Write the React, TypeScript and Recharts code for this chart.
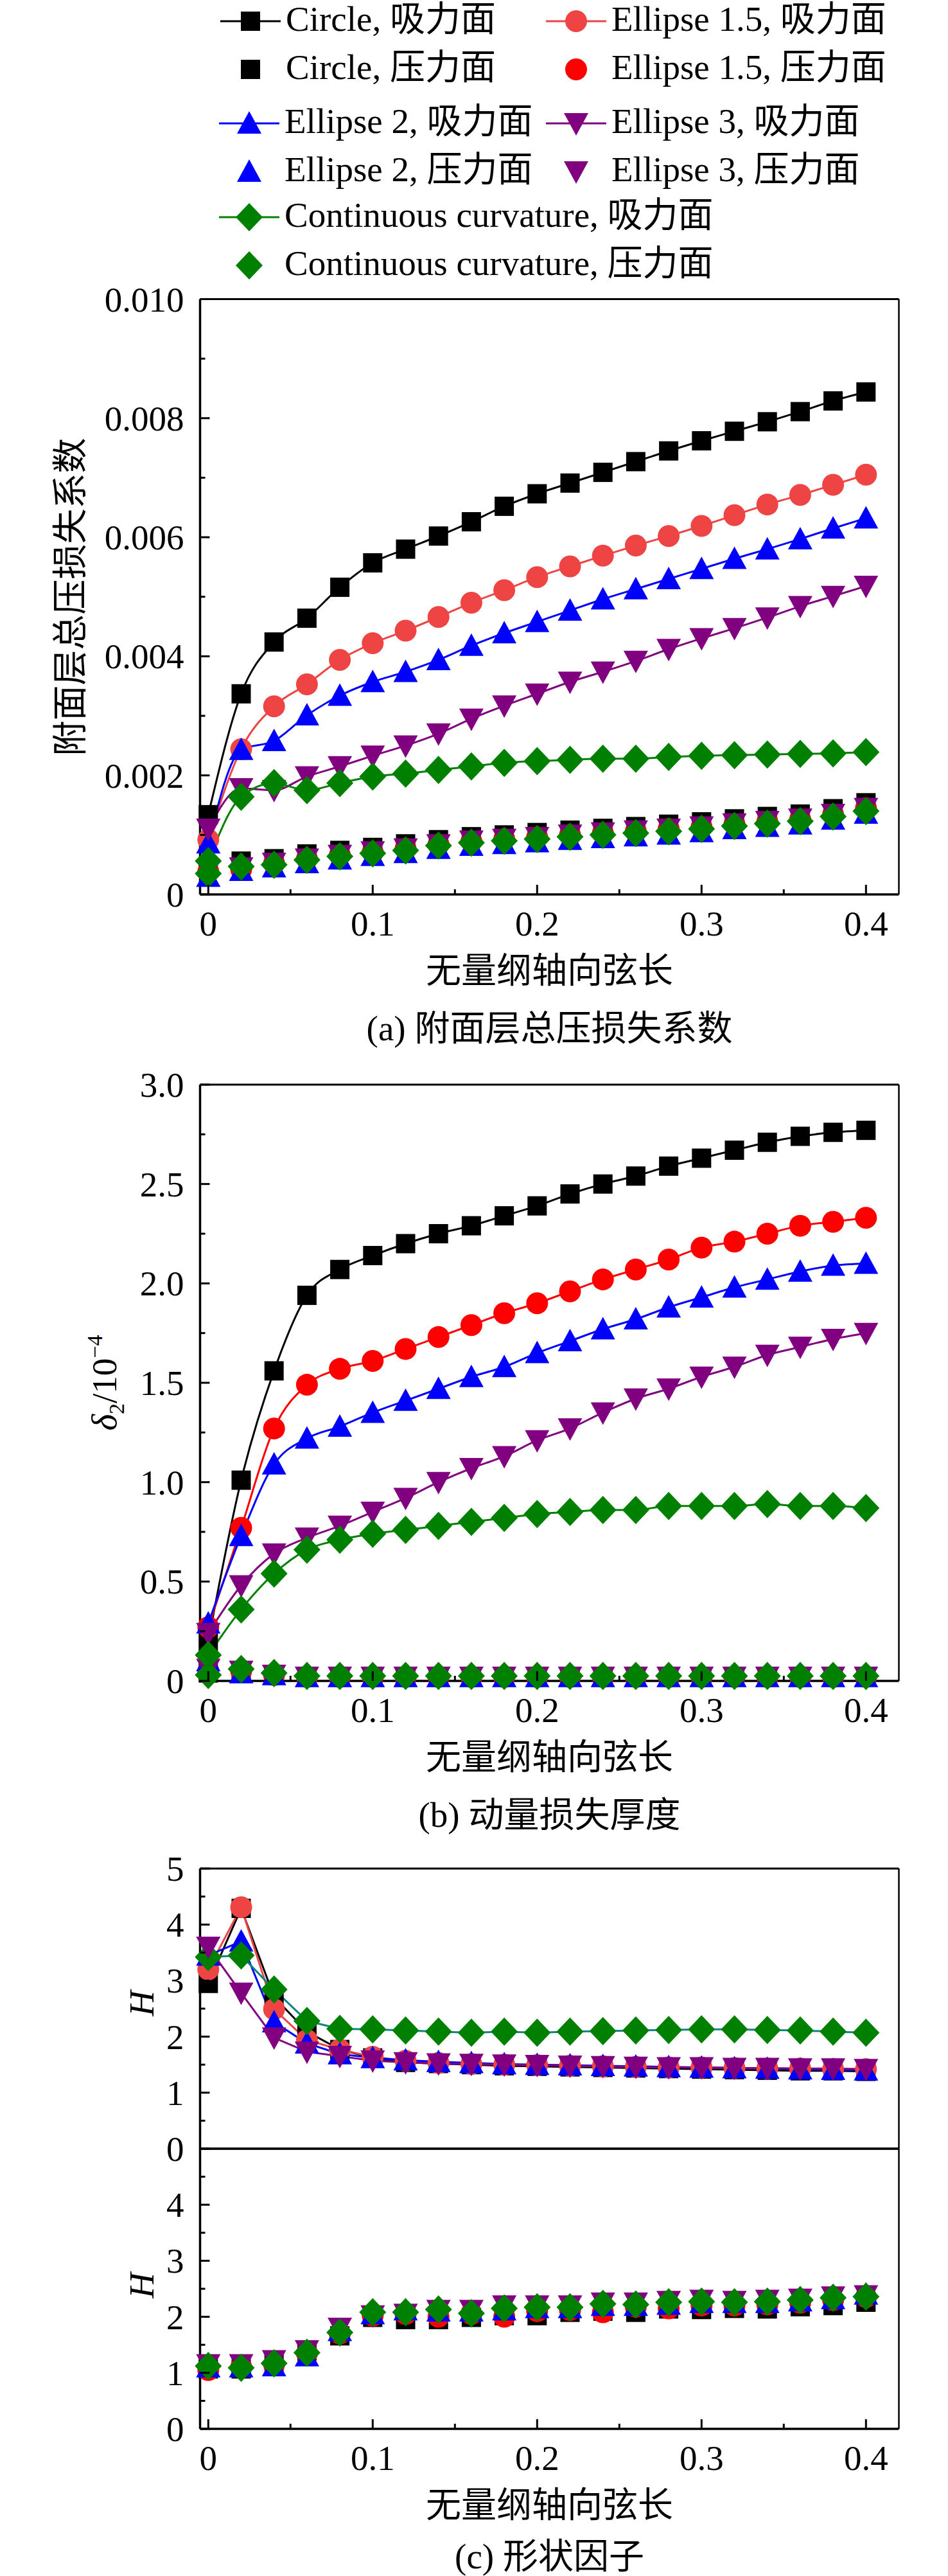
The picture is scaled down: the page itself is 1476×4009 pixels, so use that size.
import React from "react";
import { LineChart, Line, XAxis, YAxis, ReferenceLine } from "recharts";

const FONT = "'Liberation Serif', 'Times New Roman', 'Noto Sans CJK SC', serif";

// x positions (dimensionless axial chord)
const xs = [0, 0.02, 0.04, 0.06, 0.08, 0.1, 0.12, 0.14, 0.16, 0.18, 0.2, 0.22, 0.24, 0.26, 0.28, 0.3, 0.32, 0.34, 0.36, 0.38, 0.4];
const xTicks = [0, 0.05, 0.1, 0.15, 0.2, 0.25, 0.3, 0.35, 0.4];
const xLabels = ["0", "", "0.1", "", "0.2", "", "0.3", "", "0.4"];

// (a) total pressure loss coefficient
const aTicks = [0, 0.001, 0.002, 0.003, 0.004, 0.005, 0.006, 0.007, 0.008, 0.009, 0.01];
const aLabels = ["0", "", "0.002", "", "0.004", "", "0.006", "", "0.008", "", "0.010"];
const aCircleS = [0.00134, 0.00337, 0.00424, 0.00464, 0.00516, 0.00557, 0.0058, 0.00602, 0.00626, 0.00652, 0.00673, 0.00691, 0.00709, 0.00727, 0.00745, 0.00762, 0.00778, 0.00794, 0.00811, 0.00829, 0.00844];
const aCircleP = [0.00047, 0.00056, 0.0006, 0.00068, 0.00074, 0.00079, 0.00085, 0.00092, 0.00097, 0.001, 0.00104, 0.00108, 0.00111, 0.00114, 0.00118, 0.00122, 0.00127, 0.00131, 0.00135, 0.00144, 0.00154];
const aE15S = [0.00092, 0.00244, 0.00316, 0.00353, 0.00394, 0.00422, 0.00443, 0.00466, 0.0049, 0.00511, 0.00533, 0.00551, 0.00569, 0.00586, 0.00602, 0.00619, 0.00637, 0.00655, 0.00671, 0.00688, 0.00705];
const aE15P = [0.00038, 0.00042, 0.00052, 0.0006, 0.00066, 0.00071, 0.00077, 0.00084, 0.00089, 0.00093, 0.00096, 0.001, 0.00103, 0.00106, 0.0011, 0.00113, 0.00118, 0.00122, 0.00126, 0.00134, 0.00145];
const aE2S = [0.00086, 0.00243, 0.00258, 0.00301, 0.00334, 0.00357, 0.00374, 0.00394, 0.00418, 0.00439, 0.00458, 0.00477, 0.00496, 0.00513, 0.0053, 0.00547, 0.00564, 0.0058, 0.00597, 0.00615, 0.00632];
const aE2P = [0.0003, 0.0004, 0.00046, 0.00053, 0.00059, 0.00065, 0.0007, 0.00077, 0.00082, 0.00085, 0.00088, 0.00092, 0.00095, 0.00098, 0.00101, 0.00105, 0.0011, 0.00114, 0.00118, 0.00126, 0.00136];
const aE3S = [0.0011, 0.00178, 0.00175, 0.00198, 0.00215, 0.00233, 0.0025, 0.0027, 0.00295, 0.00317, 0.00337, 0.00357, 0.00374, 0.00392, 0.00412, 0.0043, 0.00447, 0.00465, 0.00484, 0.00501, 0.00518];
const aE3P = [0.0004, 0.00045, 0.00053, 0.0006, 0.00066, 0.00072, 0.00077, 0.00084, 0.0009, 0.00093, 0.00096, 0.001, 0.00104, 0.00107, 0.0011, 0.00114, 0.00119, 0.00123, 0.00127, 0.00135, 0.00145];
const aCcS = [0.00056, 0.00164, 0.00187, 0.00175, 0.00187, 0.00198, 0.00203, 0.00209, 0.00215, 0.00221, 0.00224, 0.00226, 0.00228, 0.00228, 0.00231, 0.00233, 0.00234, 0.00235, 0.00236, 0.00237, 0.00239];
const aCcP = [0.00035, 0.00047, 0.0005, 0.00058, 0.00064, 0.00069, 0.00074, 0.00082, 0.00087, 0.0009, 0.00093, 0.00097, 0.001, 0.00103, 0.00106, 0.0011, 0.00115, 0.00119, 0.00123, 0.00131, 0.0014];

// (b) momentum thickness
const bTicks = [0, 0.25, 0.5, 0.75, 1, 1.25, 1.5, 1.75, 2, 2.25, 2.5, 2.75, 3];
const bLabels = ["0", "", "0.5", "", "1.0", "", "1.5", "", "2.0", "", "2.5", "", "3.0"];
const bCircleS = [0.2, 1.01, 1.56, 1.94, 2.07, 2.14, 2.2, 2.25, 2.29, 2.34, 2.39, 2.45, 2.5, 2.54, 2.59, 2.63, 2.67, 2.71, 2.74, 2.76, 2.77];
const bCircleP = [0.04, 0.05, 0.03, 0.02, 0.02, 0.02, 0.02, 0.02, 0.02, 0.02, 0.02, 0.02, 0.02, 0.02, 0.02, 0.02, 0.02, 0.02, 0.02, 0.02, 0.02];
const bE15S = [0.27, 0.77, 1.27, 1.49, 1.57, 1.61, 1.67, 1.73, 1.79, 1.85, 1.9, 1.96, 2.02, 2.07, 2.12, 2.18, 2.21, 2.25, 2.29, 2.31, 2.33];
const bE15P = [0.05, 0.05, 0.03, 0.02, 0.02, 0.02, 0.02, 0.02, 0.02, 0.02, 0.02, 0.02, 0.02, 0.02, 0.02, 0.02, 0.02, 0.02, 0.02, 0.02, 0.02];
const bE2S = [0.29, 0.73, 1.09, 1.22, 1.28, 1.35, 1.41, 1.47, 1.53, 1.58, 1.65, 1.71, 1.77, 1.82, 1.88, 1.93, 1.98, 2.02, 2.06, 2.09, 2.1];
const bE2P = [0.1, 0.04, 0.03, 0.02, 0.02, 0.02, 0.02, 0.02, 0.02, 0.02, 0.02, 0.02, 0.02, 0.02, 0.02, 0.02, 0.02, 0.02, 0.02, 0.02, 0.02];
const bE3S = [0.24, 0.48, 0.64, 0.72, 0.78, 0.85, 0.92, 1.0, 1.07, 1.13, 1.21, 1.27, 1.35, 1.42, 1.47, 1.53, 1.58, 1.64, 1.68, 1.72, 1.75];
const bE3P = [0.06, 0.05, 0.03, 0.02, 0.02, 0.02, 0.02, 0.02, 0.02, 0.02, 0.02, 0.02, 0.02, 0.02, 0.02, 0.02, 0.02, 0.02, 0.02, 0.02, 0.02];
const bCcS = [0.13, 0.36, 0.54, 0.66, 0.71, 0.74, 0.76, 0.78, 0.8, 0.82, 0.84, 0.85, 0.86, 0.86, 0.88, 0.88, 0.88, 0.89, 0.88, 0.88, 0.87];
const bCcP = [0.03, 0.06, 0.04, 0.025, 0.025, 0.025, 0.025, 0.025, 0.025, 0.025, 0.025, 0.025, 0.025, 0.025, 0.025, 0.025, 0.025, 0.025, 0.025, 0.025, 0.025];

// (c) shape factor
const cTicks = [0, 0.5, 1, 1.5, 2, 2.5, 3, 3.5, 4, 4.5, 5];
const cTopLabels = ["0", "", "1", "", "2", "", "3", "", "4", "", "5"];
const cBotLabels = ["0", "", "1", "", "2", "", "3", "", "4", "", ""];
const cCircleS = [2.95, 4.29, 2.71, 2.09, 1.77, 1.62, 1.54, 1.52, 1.5, 1.48, 1.47, 1.46, 1.45, 1.44, 1.43, 1.42, 1.41, 1.4, 1.39, 1.39, 1.38];
const cE15S = [3.2, 4.31, 2.49, 1.94, 1.77, 1.64, 1.57, 1.53, 1.51, 1.5, 1.49, 1.48, 1.47, 1.46, 1.45, 1.45, 1.44, 1.43, 1.43, 1.42, 1.42];
const cE2S = [3.45, 3.7, 2.26, 1.88, 1.69, 1.62, 1.58, 1.55, 1.53, 1.51, 1.5, 1.49, 1.48, 1.47, 1.46, 1.45, 1.44, 1.43, 1.42, 1.41, 1.4];
const cE3S = [3.6, 2.78, 1.98, 1.73, 1.65, 1.57, 1.54, 1.52, 1.51, 1.5, 1.49, 1.48, 1.47, 1.46, 1.45, 1.45, 1.44, 1.44, 1.43, 1.43, 1.42];
const cCcS = [3.42, 3.45, 2.84, 2.28, 2.14, 2.13, 2.11, 2.09, 2.07, 2.09, 2.07, 2.09, 2.1, 2.11, 2.12, 2.13, 2.13, 2.12, 2.11, 2.09, 2.07];
const cCircleP = [1.07, 1.07, 1.2, 1.39, 1.66, 1.99, 1.95, 1.95, 1.99, 2.02, 2.02, 2.08, 2.1, 2.08, 2.14, 2.13, 2.15, 2.14, 2.18, 2.2, 2.26];
const cE15P = [1.05, 1.1, 1.15, 1.35, 1.7, 2.02, 2.05, 2.0, 2.05, 2.0, 2.1, 2.12, 2.08, 2.18, 2.15, 2.2, 2.2, 2.22, 2.25, 2.3, 2.35];
const cE2P = [1.1, 1.1, 1.12, 1.3, 1.75, 2.05, 2.12, 2.1, 2.1, 2.12, 2.16, 2.16, 2.2, 2.2, 2.22, 2.25, 2.25, 2.25, 2.28, 2.32, 2.4];
const cE3P = [1.15, 1.15, 1.22, 1.4, 1.8, 2.02, 2.05, 2.12, 2.12, 2.2, 2.2, 2.2, 2.25, 2.25, 2.28, 2.3, 2.28, 2.3, 2.32, 2.36, 2.38];
const cCcP = [1.12, 1.09, 1.17, 1.36, 1.72, 2.08, 2.08, 2.13, 2.06, 2.15, 2.17, 2.17, 2.23, 2.22, 2.26, 2.27, 2.26, 2.27, 2.3, 2.34, 2.36];

type Shape = "square" | "circle" | "up" | "down" | "diamond";

function Marker({ cx, cy, shape, fill }: { cx?: number; cy?: number; shape: Shape; fill: string }) {
  if (cx == null || cy == null || isNaN(cx) || isNaN(cy)) return null;
  switch (shape) {
    case "square":
      return <rect x={cx - 15} y={cy - 15} width={30} height={30} fill={fill} />;
    case "circle":
      return <circle cx={cx} cy={cy} r={17} fill={fill} />;
    case "up":
      return <polygon points={`${cx},${cy - 19} ${cx + 19},${cy + 16} ${cx - 19},${cy + 16}`} fill={fill} />;
    case "down":
      return <polygon points={`${cx},${cy + 19} ${cx + 19},${cy - 16} ${cx - 19},${cy - 16}`} fill={fill} />;
    default:
      return <polygon points={`${cx},${cy - 22} ${cx + 21},${cy} ${cx},${cy + 22} ${cx - 21},${cy}`} fill={fill} />;
  }
}

type Series = { key: string; values: number[]; shape: Shape; fill: string; stroke: string };

function rows(series: Series[]) {
  return xs.map((x, i) => {
    const r: Record<string, number> = { x };
    series.forEach((s) => (r[s.key] = s.values[i]));
    return r;
  });
}

const PLOT_L = 311.5;
const PLOT_R = 1399.5;
const Y_AXIS_W = 60;
const X_AXIS_H = 30;

function makeXTick() {
  return (p: any) => {
    const { x, y, payload } = p;
    const i = xTicks.findIndex((t) => Math.abs(t - payload.value) < 1e-9);
    const label = xLabels[i] ?? "";
    const major = label !== "";
    return (
      <g>
        <line x1={x} x2={x} y1={y} y2={y - (major ? 15 : 8)} stroke="#000" strokeWidth={3} />
        {major && (
          <text x={x} y={y + 64} textAnchor="middle" fontSize={55} fontFamily={FONT} fill="#000">
            {label}
          </text>
        )}
      </g>
    );
  };
}

function makeYTick(ticks: number[], labels: string[]) {
  return (p: any) => {
    const { x, y, payload } = p;
    const i = ticks.findIndex((t) => Math.abs(t - payload.value) < 1e-9);
    const label = labels[i] ?? "";
    const major = i % 2 === 0;
    return (
      <g>
        <line x1={x} x2={x + (major ? 15 : 8)} y1={y} y2={y} stroke="#000" strokeWidth={3} />
        {label !== "" && (
          <text x={x - 25} y={y + 19} textAnchor="end" fontSize={55} fontFamily={FONT} fill="#000">
            {label}
          </text>
        )}
      </g>
    );
  };
}

type PanelProps = {
  chartTop: number;
  chartBottom: number;
  plotTop: number;
  plotBottom: number;
  yTicks: number[];
  yLabels: string[];
  series: Series[];
  showX: boolean;
  curve: "monotone" | "linear";
};

function Panel({ chartTop, chartBottom, plotTop, plotBottom, yTicks, yLabels, series, showX, curve }: PanelProps) {
  const data = rows(series);
  const yMax = yTicks[yTicks.length - 1];
  return (
    <div style={{ position: "absolute", left: 0, top: chartTop }}>
      <LineChart
        width={1476}
        height={chartBottom - chartTop}
        data={data}
        style={{ overflow: "visible" }}
        margin={{
          top: plotTop - chartTop,
          bottom: chartBottom - plotBottom - X_AXIS_H,
          left: PLOT_L - Y_AXIS_W,
          right: 1476 - PLOT_R,
        }}
      >
        <XAxis
          type="number"
          dataKey="x"
          domain={[-0.005, 0.42]}
          ticks={xTicks}
          interval={0}
          height={X_AXIS_H}
          tickSize={0}
          tickMargin={0}
          tickLine={false}
          tick={showX ? makeXTick() : false}
          axisLine={{ stroke: "#000", strokeWidth: 3.5 }}
        />
        <YAxis
          type="number"
          domain={[0, yMax]}
          ticks={yTicks}
          interval={0}
          width={Y_AXIS_W}
          tickSize={0}
          tickMargin={0}
          tickLine={false}
          tick={makeYTick(yTicks, yLabels)}
          axisLine={{ stroke: "#000", strokeWidth: 3.5 }}
        />
        <ReferenceLine y={yMax} stroke="#000" strokeWidth={3} />
        <ReferenceLine x={0.42} stroke="#000" strokeWidth={2.5} />
        {series.map((s) => (
          <Line
            key={s.key}
            dataKey={s.key}
            type={curve}
            stroke={s.stroke}
            strokeWidth={3}
            isAnimationActive={false}
            activeDot={false}
            dot={(p: any) => <Marker key={`${s.key}-${p.index}`} cx={p.cx} cy={p.cy} shape={s.shape} fill={s.fill} />}
          />
        ))}
      </LineChart>
    </div>
  );
}

const BLACK = "#000000";
const LRED = "#EE4444";
const RED = "#FF0000";
const BLUE = "#0000FF";
const PURPLE = "#800080";
const GREEN = "#008000";
const TEAL = "#0E8585";

const seriesA: Series[] = [
  { key: "cS", values: aCircleS, shape: "square", fill: BLACK, stroke: BLACK },
  { key: "cP", values: aCircleP, shape: "square", fill: BLACK, stroke: "none" },
  { key: "e15S", values: aE15S, shape: "circle", fill: LRED, stroke: LRED },
  { key: "e15P", values: aE15P, shape: "circle", fill: RED, stroke: "none" },
  { key: "e2S", values: aE2S, shape: "up", fill: BLUE, stroke: BLUE },
  { key: "e2P", values: aE2P, shape: "up", fill: BLUE, stroke: "none" },
  { key: "e3S", values: aE3S, shape: "down", fill: PURPLE, stroke: PURPLE },
  { key: "e3P", values: aE3P, shape: "down", fill: PURPLE, stroke: "none" },
  { key: "ccS", values: aCcS, shape: "diamond", fill: GREEN, stroke: GREEN },
  { key: "ccP", values: aCcP, shape: "diamond", fill: GREEN, stroke: "none" },
];

const seriesB: Series[] = [
  { key: "cS", values: bCircleS, shape: "square", fill: BLACK, stroke: BLACK },
  { key: "cP", values: bCircleP, shape: "square", fill: BLACK, stroke: "none" },
  { key: "e15S", values: bE15S, shape: "circle", fill: RED, stroke: RED },
  { key: "e15P", values: bE15P, shape: "circle", fill: RED, stroke: "none" },
  { key: "e2S", values: bE2S, shape: "up", fill: BLUE, stroke: BLUE },
  { key: "e2P", values: bE2P, shape: "up", fill: BLUE, stroke: "none" },
  { key: "e3S", values: bE3S, shape: "down", fill: PURPLE, stroke: PURPLE },
  { key: "e3P", values: bE3P, shape: "down", fill: PURPLE, stroke: "none" },
  { key: "ccS", values: bCcS, shape: "diamond", fill: GREEN, stroke: GREEN },
  { key: "ccP", values: bCcP, shape: "diamond", fill: GREEN, stroke: "none" },
];

const seriesCTop: Series[] = [
  { key: "cS", values: cCircleS, shape: "square", fill: BLACK, stroke: BLACK },
  { key: "e15S", values: cE15S, shape: "circle", fill: LRED, stroke: LRED },
  { key: "e2S", values: cE2S, shape: "up", fill: BLUE, stroke: BLUE },
  { key: "ccS", values: cCcS, shape: "diamond", fill: GREEN, stroke: TEAL },
  { key: "e3S", values: cE3S, shape: "down", fill: PURPLE, stroke: PURPLE },
];

const seriesCBot: Series[] = [
  { key: "cP", values: cCircleP, shape: "square", fill: BLACK, stroke: "none" },
  { key: "e15P", values: cE15P, shape: "circle", fill: RED, stroke: "none" },
  { key: "e2P", values: cE2P, shape: "up", fill: BLUE, stroke: "none" },
  { key: "e3P", values: cE3P, shape: "down", fill: PURPLE, stroke: "none" },
  { key: "ccP", values: cCcP, shape: "diamond", fill: GREEN, stroke: "none" },
];

type LegendItem = { x: number; row: number; shape: Shape; color: string; line: boolean; text: string };

const legendBaselines = [48, 123, 207, 282, 353, 428];
const legendItems: LegendItem[] = [
  { x: 390, row: 0, shape: "square", color: BLACK, line: true, text: "Circle, 吸力面" },
  { x: 897, row: 0, shape: "circle", color: LRED, line: true, text: "Ellipse 1.5, 吸力面" },
  { x: 390, row: 1, shape: "square", color: BLACK, line: false, text: "Circle, 压力面" },
  { x: 897, row: 1, shape: "circle", color: RED, line: false, text: "Ellipse 1.5, 压力面" },
  { x: 388, row: 2, shape: "up", color: BLUE, line: true, text: "Ellipse 2, 吸力面" },
  { x: 897, row: 2, shape: "down", color: PURPLE, line: true, text: "Ellipse 3, 吸力面" },
  { x: 388, row: 3, shape: "up", color: BLUE, line: false, text: "Ellipse 2, 压力面" },
  { x: 897, row: 3, shape: "down", color: PURPLE, line: false, text: "Ellipse 3, 压力面" },
  { x: 388, row: 4, shape: "diamond", color: GREEN, line: true, text: "Continuous curvature, 吸力面" },
  { x: 388, row: 5, shape: "diamond", color: GREEN, line: false, text: "Continuous curvature, 压力面" },
];

function LegendBlock() {
  return (
    <svg width={1476} height={445} style={{ position: "absolute", left: 0, top: 0 }}>
      {legendItems.map((it, i) => {
        const base = legendBaselines[it.row];
        const cy = base - 15;
        return (
          <g key={i}>
            {it.line && <line x1={it.x - 47} x2={it.x + 47} y1={cy} y2={cy} stroke={it.color} strokeWidth={3} />}
            <Marker cx={it.x} cy={cy} shape={it.shape} fill={it.color} />
            <text x={it.x + 55} y={base} fontSize={55} fontFamily={FONT} fill="#000">
              {it.text}
            </text>
          </g>
        );
      })}
    </svg>
  );
}

function CenterText({ x, y, children, rotate = false, style = {} }: any) {
  return (
    <div
      style={{
        position: "absolute",
        left: x,
        top: y,
        transform: `translate(-50%, -50%)${rotate ? " rotate(-90deg)" : ""}`,
        whiteSpace: "nowrap",
        fontSize: 55,
        lineHeight: "55px",
        fontFamily: FONT,
        color: "#000",
        ...style,
      }}
    >
      {children}
    </div>
  );
}

const xCenter = (PLOT_L + PLOT_R) / 2;

export default function App() {
  return (
    <div style={{ position: "absolute", left: 0, top: 0, width: 1476, height: 4009, background: "#fff", overflow: "hidden" }}>
      <LegendBlock />

      <Panel chartTop={410} chartBottom={1480} plotTop={465.5} plotBottom={1392} yTicks={aTicks} yLabels={aLabels} series={seriesA} showX curve="monotone" />
      <CenterText x={109} y={929} rotate>附面层总压损失系数</CenterText>
      <CenterText x={xCenter} y={1510}>无量纲轴向弦长</CenterText>
      <CenterText x={xCenter} y={1600}>(a) 附面层总压损失系数</CenterText>

      <Panel chartTop={1640} chartBottom={2704} plotTop={1688} plotBottom={2616} yTicks={bTicks} yLabels={bLabels} series={seriesB} showX curve="monotone" />
      <CenterText x={166} y={2152} rotate>
        <i>δ</i>
        <span style={{ fontSize: 34, position: "relative", top: 12 }}>2</span>/10
        <span style={{ fontSize: 34, position: "relative", top: -22 }}>−4</span>
      </CenterText>
      <CenterText x={xCenter} y={2734}>无量纲轴向弦长</CenterText>
      <CenterText x={xCenter} y={2824}>(b) 动量损失厚度</CenterText>

      <Panel chartTop={2860} chartBottom={3374} plotTop={2908} plotBottom={3344} yTicks={cTicks} yLabels={cTopLabels} series={seriesCTop} showX={false} curve="linear" />
      <Panel chartTop={3330} chartBottom={3868} plotTop={3344} plotBottom={3780} yTicks={cTicks} yLabels={cBotLabels} series={seriesCBot} showX curve="linear" />
      <CenterText x={220} y={3118} rotate>
        <i>H</i>
      </CenterText>
      <CenterText x={220} y={3557} rotate>
        <i>H</i>
      </CenterText>
      <CenterText x={xCenter} y={3898}>无量纲轴向弦长</CenterText>
      <CenterText x={xCenter} y={3978}>(c) 形状因子</CenterText>
    </div>
  );
}
